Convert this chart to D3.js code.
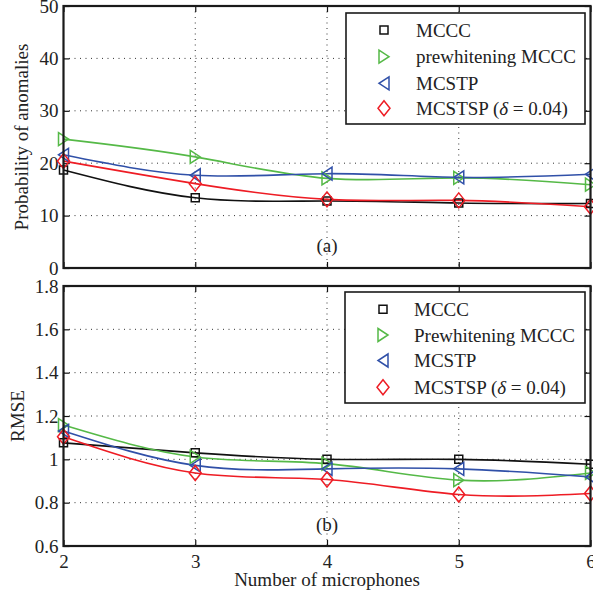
<!DOCTYPE html>
<html>
<head>
<meta charset="utf-8">
<script src="https://cdn.jsdelivr.net/npm/d3@7"></script>
<style>
  body { margin: 0; background: #fff; }
  svg { display: block; font-family: "Liberation Serif", "Times New Roman", serif; }
</style>
</head>
<body>
<svg id="chart" width="593" height="598"></svg>
<script>
// ---- data ----
const mics = [2, 3, 4, 5, 6];
const seriesNames = ["MCCC", "prewhitening MCCC", "MCSTP", "MCSTSP"];
const seriesNamesB = ["MCCC", "Prewhitening MCCC", "MCSTP", "MCSTSP"];
const colors = ["#111111", "#55b947", "#3050a8", "#ee1c24"];
const markers = ["square", "triRight", "triLeft", "diamond"];

// (a) probability of anomalies (%)
const anomMCCC   = [18.7, 13.4, 12.8, 12.4, 12.3];
const anomPreMCCC= [24.6, 21.2, 17.1, 17.2, 15.9];
const anomMCSTP  = [21.6, 17.7, 18.0, 17.3, 17.9];
const anomMCSTSP = [20.4, 16.1, 13.1, 12.9, 11.7];

// (b) RMSE
const rmseMCCC   = [1.076, 1.030, 1.000, 1.000, 0.977];
const rmsePreMCCC= [1.158, 1.011, 0.980, 0.904, 0.937];
const rmseMCSTP  = [1.131, 0.972, 0.956, 0.956, 0.919];
const rmseMCSTSP = [1.104, 0.937, 0.907, 0.838, 0.842];

const ticksA = [0, 10, 20, 30, 40, 50];
const ticksB = [0.6, 0.8, 1.0, 1.2, 1.4, 1.6, 1.8];
const tickLabelsB = ["0.6", "0.8", "1", "1.2", "1.4", "1.6", "1.8"];

// ---- layout ----
const svg = d3.select("#chart");
const left = 63.5, right = 590.5;
const x = d3.scaleLinear().domain([2, 6]).range([left, right]);

const panels = [
  { top: 6, bottom: 268, domain: [0, 50], ticks: ticksA, tickLabels: ticksA.map(String),
    data: [anomMCCC, anomPreMCCC, anomMCSTP, anomMCSTSP], names: seriesNames,
    ylabel: "Probability of anomalies", ylabelX: 28, tag: "(a)", tagY: 252,
    legend: { x0: 346, y0: 13, x1: 585, y1: 124, rows: [30, 56.7, 83.3, 108.3], mx: 384, tx: 416 } },
  { top: 286, bottom: 546, domain: [0.6, 1.8], ticks: ticksB, tickLabels: tickLabelsB,
    data: [rmseMCCC, rmsePreMCCC, rmseMCSTP, rmseMCSTSP], names: seriesNamesB,
    ylabel: "RMSE", ylabelX: 23.5, tag: "(b)", tagY: 531,
    legend: { x0: 345, y0: 292, x1: 585, y1: 403, rows: [309.3, 335, 360.5, 387.3], mx: 383, tx: 414 } }
];

function markerPath(type) {
  switch (type) {
    case "square": return "M-4,-4L4,-4L4,4L-4,4Z";
    case "triRight": return "M-5,-6.5L5,0L-5,6.5Z";
    case "triLeft": return "M5,-6.5L-5,0L5,6.5Z";
    case "diamond": return "M0,-7.5L6,0L0,7.5L-6,0Z";
  }
}

panels.forEach((p, pi) => {
  const y = d3.scaleLinear().domain(p.domain).range([p.bottom, p.top]);
  const g = svg.append("g");

  // grid (dotted)
  const grid = g.append("g").attr("stroke", "#333").attr("stroke-width", 1).attr("stroke-dasharray", "1,4.5");
  mics.slice(1, -1).forEach(m => {
    grid.append("line").attr("x1", x(m)).attr("x2", x(m)).attr("y1", p.top).attr("y2", p.bottom);
  });
  p.ticks.slice(1, -1).forEach(t => {
    grid.append("line").attr("x1", left).attr("x2", right).attr("y1", y(t)).attr("y2", y(t));
  });

  // axes via d3 (inward ticks)
  const yAxisL = d3.axisLeft(y).tickValues(p.ticks).tickSizeInner(-6).tickSizeOuter(0)
    .tickFormat((d, i) => p.tickLabels[i]).tickPadding(5);
  const yAx = g.append("g").attr("transform", `translate(${left},0)`).call(yAxisL);
  const yAxisR = d3.axisRight(y).tickValues(p.ticks).tickSizeInner(-6).tickSizeOuter(0).tickFormat("");
  const yAxR = g.append("g").attr("transform", `translate(${right},0)`).call(yAxisR);
  const xAxisB = d3.axisBottom(x).tickValues(mics).tickSizeInner(-6).tickSizeOuter(0)
    .tickFormat(pi === 1 ? d3.format("d") : "").tickPadding(8.5);
  const xAxB = g.append("g").attr("transform", `translate(0,${p.bottom})`).call(xAxisB);
  const xAxisT = d3.axisTop(x).tickValues(mics).tickSizeInner(-6).tickSizeOuter(0).tickFormat("");
  const xAxT = g.append("g").attr("transform", `translate(0,${p.top})`).call(xAxisT);
  [yAx, yAxR, xAxB, xAxT].forEach(a => {
    a.select(".domain").remove();
    a.selectAll(".tick line").attr("stroke", "#111").attr("stroke-width", 1.2);
    a.selectAll("text").attr("font-family", "Liberation Serif").attr("font-size", 19).attr("fill", "#222");
  });

  // series
  const line = d3.line().x((d, i) => x(mics[i])).y(d => y(d)).curve(d3.curveNatural);
  p.data.forEach((vals, si) => {
    g.append("path").attr("d", line(vals)).attr("fill", "none")
      .attr("stroke", colors[si]).attr("stroke-width", 1.6);
  });
  p.data.forEach((vals, si) => {
    g.selectAll(null).data(vals).enter().append("path")
      .attr("d", markerPath(markers[si]))
      .attr("transform", (d, i) => `translate(${x(mics[i])},${y(d)})`)
      .attr("fill", "none").attr("stroke", colors[si]).attr("stroke-width", 1.5);
  });

  // frame
  g.append("rect").attr("x", left).attr("y", p.top).attr("width", right - left).attr("height", p.bottom - p.top)
    .attr("fill", "none").attr("stroke", "#1a1a1a").attr("stroke-width", 2.2);

  // tag
  g.append("text").attr("x", x(4)).attr("y", p.tagY).attr("text-anchor", "middle")
    .attr("font-size", 19).attr("fill", "#222").text(p.tag);

  // y label
  g.append("text").attr("transform", `translate(${p.ylabelX},${(p.top + p.bottom) / 2}) rotate(-90)`)
    .attr("text-anchor", "middle").attr("font-size", 19).attr("fill", "#222").text(p.ylabel);

  // legend
  const L = p.legend;
  g.append("rect").attr("x", L.x0).attr("y", L.y0).attr("width", L.x1 - L.x0).attr("height", L.y1 - L.y0)
    .attr("fill", "#fff").attr("stroke", "#1a1a1a").attr("stroke-width", 1.6);
  p.names.forEach((nm, si) => {
    const ry = L.rows[si];
    g.append("path").attr("d", markerPath(markers[si])).attr("transform", `translate(${L.mx},${ry})`)
      .attr("fill", "none").attr("stroke", colors[si]).attr("stroke-width", 1.5);
    const t = g.append("text").attr("x", L.tx).attr("y", ry + 6.5).attr("font-size", 19).attr("fill", "#222");
    if (nm === "MCSTSP") {
      t.append("tspan").text("MCSTSP (");
      t.append("tspan").attr("font-style", "italic").text("\u03B4");
      t.append("tspan").text(" = 0.04)");
    } else {
      t.text(nm);
    }
  });
});

// x label
svg.append("text").attr("x", x(4)).attr("y", 585.5).attr("text-anchor", "middle")
  .attr("font-size", 19).attr("fill", "#222").text("Number of microphones");
</script>
</body>
</html>
